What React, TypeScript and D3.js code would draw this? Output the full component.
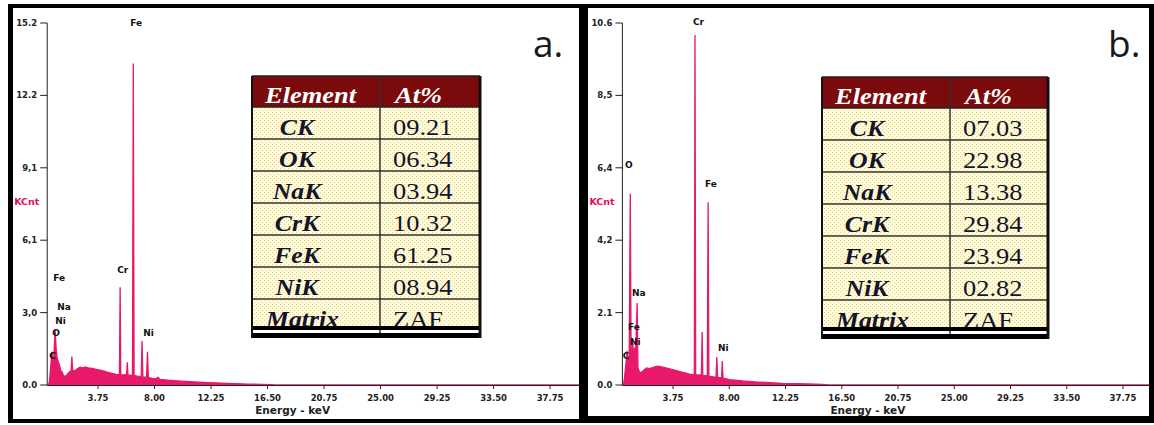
import React from 'react';
import * as d3 from 'd3';

const energyTicks = [3.75, 8.0, 12.25, 16.5, 20.75, 25.0, 29.25, 33.5, 37.75];
const energyMax = 40;
const countMaxA = 15.2;
const countMaxB = 10.6;
const countTickLabelsA = ['0.0', '3,0', '6,1', '9,1', '12.2', '15.2'];
const countTickLabelsB = ['0.0', '2.1', '4,2', '6,4', '8,5', '10.6'];

// [keV, KCnt]
const spectrumA: [number, number][] = [
  [0, 0], [0.08, 0.1], [0.15, 0.5], [0.22, 1.0], [0.28, 1.4], [0.34, 1.0], [0.42, 1.2], [0.52, 2.3],
  [0.6, 1.5], [0.68, 1.1], [0.78, 0.95], [0.86, 0.8], [0.95, 0.6], [1.04, 0.55], [1.15, 0.4], [1.3, 0.35],
  [1.45, 0.45], [1.6, 0.55], [1.72, 0.6], [1.78, 1.2], [1.84, 0.6], [2.0, 0.6], [2.2, 0.68], [2.4, 0.75],
  [2.6, 0.72], [2.8, 0.76], [3.0, 0.72], [3.3, 0.7], [3.6, 0.66], [3.9, 0.62], [4.2, 0.58], [4.5, 0.53],
  [4.8, 0.49], [5.1, 0.45], [5.36, 0.43], [5.41, 4.1], [5.46, 0.42], [5.7, 0.42], [5.9, 0.45], [5.95, 0.95],
  [6.0, 0.42], [6.34, 0.4], [6.4, 13.5], [6.46, 0.4], [6.7, 0.37], [7.0, 0.36], [7.06, 1.85], [7.12, 0.34],
  [7.4, 0.33], [7.47, 1.4], [7.53, 0.32], [7.8, 0.28], [8.1, 0.26], [8.26, 0.32], [8.4, 0.24], [9, 0.2],
  [10, 0.16], [11, 0.13], [12, 0.1], [13, 0.08], [14, 0.06], [15, 0.04], [16, 0.03], [16.8, 0.01], [17, 0], [40, 0],
];

// [keV, KCnt]
const spectrumB: [number, number][] = [
  [0, 0], [0.08, 0.2], [0.16, 0.5], [0.24, 0.8], [0.28, 1.0], [0.34, 0.6], [0.44, 0.9], [0.52, 5.6],
  [0.58, 1.0], [0.66, 0.9], [0.71, 1.3], [0.76, 0.7], [0.85, 1.1], [0.9, 0.6], [1.04, 2.4], [1.1, 0.5],
  [1.25, 0.35], [1.45, 0.4], [1.74, 0.5], [2.0, 0.48], [2.3, 0.52], [2.6, 0.55], [2.9, 0.53], [3.2, 0.5],
  [3.5, 0.47], [3.8, 0.44], [4.1, 0.41], [4.4, 0.38], [4.7, 0.35], [5.0, 0.32], [5.36, 0.3], [5.41, 10.25],
  [5.46, 0.3], [5.7, 0.29], [5.9, 0.3], [5.95, 1.55], [6.0, 0.28], [6.34, 0.27], [6.4, 5.35], [6.46, 0.26],
  [6.8, 0.24], [7.0, 0.23], [7.06, 0.82], [7.12, 0.22], [7.42, 0.21], [7.47, 0.7], [7.53, 0.2], [8.0, 0.16],
  [9, 0.12], [10, 0.09], [11, 0.07], [12, 0.05], [13, 0.04], [14, 0.03], [15, 0.015], [15.5, 0], [40, 0],
];

const peakLabelsA = [
  { t: 'Fe', e: 6.17, c: 15.2 }, { t: 'Cr', e: 5.19, c: 4.82 }, { t: 'Ni', e: 7.15, c: 2.18 },
  { t: 'Fe', e: 0.38, c: 4.52 }, { t: 'Na', e: 0.68, c: 3.27 }, { t: 'Ni', e: 0.53, c: 2.68 },
  { t: 'O', e: 0.3, c: 2.18 }, { t: 'C', e: 0.08, c: 1.21 },
];
const peakLabelsB = [
  { t: 'Cr', e: 5.26, c: 10.63 }, { t: 'Fe', e: 6.17, c: 5.89 }, { t: 'O', e: 0.12, c: 6.44 },
  { t: 'Na', e: 0.65, c: 2.69 }, { t: 'Fe', e: 0.35, c: 1.7 }, { t: 'Ni', e: 0.5, c: 1.26 },
  { t: 'C', e: -0.05, c: 0.85 }, { t: 'Ni', e: 7.14, c: 1.08 },
];

const tableElements = ['CK', 'OK', 'NaK', 'CrK', 'FeK', 'NiK', 'Matrix'];
const atPercentA = ['09.21', '06.34', '03.94', '10.32', '61.25', '08.94', 'ZAF'];
const atPercentB = ['07.03', '22.98', '13.38', '29.84', '23.94', '02.82', 'ZAF'];

const PINK = '#e8186a';
const SERIF = '"Liberation Serif", "Times New Roman", serif';
const AXISF = '"DejaVu Sans", Verdana, sans-serif';

type Cfg = {
  id: string;
  outer: [number, number, number, number];
  inner: [number, number, number, number];
  xRange: [number, number];
  yMax: number;
  yLabels: string[];
  data: [number, number][];
  labels: { t: string; e: number; c: number }[];
  letter: string;
  letterX: number;
  table: { x0: number; x1: number; div: number; top: number };
  values: string[];
};

const panels: Cfg[] = [
  {
    id: 'a', outer: [8, 4, 576, 419], inner: [13, 8, 566, 411], xRange: [48.2, 580], yMax: countMaxA,
    yLabels: countTickLabelsA, data: spectrumA, labels: peakLabelsA, letter: 'a.', letterX: 533,
    table: { x0: 252, x1: 480, div: 380, top: 76 }, values: atPercentA,
  },
  {
    id: 'b', outer: [584, 4, 570, 419], inner: [588, 8, 561, 408], xRange: [623.4, 1152.8], yMax: countMaxB,
    yLabels: countTickLabelsB, data: spectrumB, labels: peakLabelsB, letter: 'b.', letterX: 1108,
    table: { x0: 822, x1: 1048, div: 950, top: 77 }, values: atPercentB,
  },
];

function Table({ cfg }: { cfg: Cfg }) {
  const { x0, x1, div, top } = cfg.table;
  const headH = 31;
  const rowH = 32;
  const bodyTop = top + headH;
  const matrixBottom = bodyTop + rowH * 6 + 27;
  const sx = 'scale(1.12,1)';
  return (
    <g>
      <defs>
        <clipPath id={`tclip-${cfg.id}`}>
          <rect x={x0} y={top} width={x1 - x0} height={matrixBottom - top} />
        </clipPath>
      </defs>
      <rect x={x0} y={bodyTop} width={x1 - x0} height={matrixBottom + 12 - bodyTop} fill="url(#dots)" />
      <rect x={x0} y={top} width={x1 - x0} height={headH} fill="#7a0a0c" />
      <g fontFamily={SERIF} fontWeight="bold" fontStyle="italic" fontSize={23} fill="#fff">
        <text transform={`translate(${x0 + 13},${top + 27}) scale(1.15,1)`}>Element</text>
        <text transform={`translate(${div + 15},${top + 27}) scale(1.15,1)`}>At%</text>
      </g>
      <g clipPath={`url(#tclip-${cfg.id})`}>
        {tableElements.map((el, i) => {
          const ry = bodyTop + i * rowH + 28;
          const last = i === tableElements.length - 1;
          return (
            <g key={el}>
              <text
                transform={`translate(${last ? x0 + 14 : x0 + 45},${ry}) ${sx}`}
                textAnchor={last ? 'start' : 'middle'}
                fontFamily={SERIF} fontWeight="bold" fontStyle="italic" fontSize={23} fill="#14142a"
              >{el}</text>
              <text
                transform={`translate(${div + 13},${ry}) scale(1.15,1)`}
                fontFamily={SERIF} fontSize={23} fill="#14142a"
              >{cfg.values[i]}</text>
            </g>
          );
        })}
      </g>
      {d3.range(1, 7).map((i) => (
        <line key={i} x1={x0} x2={x1} y1={bodyTop + i * rowH} y2={bodyTop + i * rowH} stroke="#333" strokeWidth={1.5} />
      ))}
      <line x1={x0} x2={x1} y1={bodyTop} y2={bodyTop} stroke="#222" strokeWidth={1.5} />
      <line x1={div} x2={div} y1={top} y2={matrixBottom + 12} stroke="#333" strokeWidth={1.5} />
      <rect x={x0} y={matrixBottom + 4} width={x1 - x0} height={3} fill="#fff" />
      <rect x={x0 - 1} y={matrixBottom} width={x1 - x0 + 2} height={4} fill="#000" />
      <rect x={x0 - 1} y={matrixBottom + 7} width={x1 - x0 + 2} height={5} fill="#000" />
      <line x1={div} x2={div} y1={matrixBottom + 4} y2={matrixBottom + 7} stroke="#333" strokeWidth={1.5} />
      <line x1={x0} x2={x0} y1={top} y2={matrixBottom + 12} stroke="#111" strokeWidth={2} />
      <line x1={x1} x2={x1} y1={top} y2={matrixBottom + 12} stroke="#111" strokeWidth={3} />
      <line x1={x0} x2={x1} y1={top} y2={top} stroke="#222" strokeWidth={1.5} />
    </g>
  );
}

function Panel({ cfg }: { cfg: Cfg }) {
  const x = d3.scaleLinear().domain([0, energyMax]).range(cfg.xRange);
  const y = d3.scaleLinear().domain([0, cfg.yMax]).range([385, 23]);
  const area = d3.area<[number, number]>().x((d) => x(d[0])).y0(y(0)).y1((d) => y(d[1]));
  const line = d3.line<[number, number]>().x((d) => x(d[0])).y((d) => y(d[1]));
  const [ix, iy, iw, ih] = cfg.inner;
  const [ox, oy, ow, oh] = cfg.outer;
  const axisX = cfg.xRange[0] - 1;
  const yTicks = cfg.yLabels.map((_, i) => (cfg.yMax * i) / (cfg.yLabels.length - 1));
  return (
    <g>
      <defs>
        <clipPath id={`pclip-${cfg.id}`}>
          <rect x={ix} y={iy} width={iw} height={ih} />
        </clipPath>
      </defs>
      <rect x={ox} y={oy} width={ow} height={oh} fill="#000" />
      <rect x={ix} y={iy} width={iw} height={ih} fill="#fff" />
      <g clipPath={`url(#pclip-${cfg.id})`}>
        <path d={area(cfg.data) || ''} fill={PINK} />
        <path d={line(cfg.data) || ''} fill="none" stroke={PINK} strokeWidth={1.3} />
        <line x1={axisX} x2={ix + iw} y1={385.5} y2={385.5} stroke="#222" strokeWidth={1} />
        <line x1={axisX} x2={axisX} y1={y(cfg.yMax)} y2={385.5} stroke="#222" strokeWidth={1} />
        {yTicks.map((v, i) => (
          <g key={i}>
            <line x1={axisX - 7} x2={axisX} y1={y(v)} y2={y(v)} stroke="#222" strokeWidth={1} />
            <text x={axisX - 10} y={y(v)} dy="0.35em" textAnchor="end" fontFamily={AXISF} fontWeight="bold" fontSize={8.5} fill="#222">{cfg.yLabels[i]}</text>
          </g>
        ))}
        <text x={axisX - 33} y={202} dy="0.35em" fontFamily={AXISF} fontWeight="bold" fontSize={9.5} fill="#e0105a">KCnt</text>
        {energyTicks.map((t) => (
          <g key={t}>
            <line x1={x(t)} x2={x(t)} y1={385.5} y2={389} stroke="#222" strokeWidth={1} />
            <text x={x(t)} y={398} dy="0.35em" textAnchor="middle" fontFamily={AXISF} fontWeight="bold" fontSize={8.5} fill="#222">{t.toFixed(2)}</text>
          </g>
        ))}
        <text x={axisX + 208} y={410} dy="0.35em" fontFamily={AXISF} fontWeight="bold" fontSize={10.5} fill="#222">Energy - keV</text>
        {cfg.labels.map((l, i) => (
          <text key={i} x={x(l.e)} y={y(l.c)} dy="0.35em" fontFamily={AXISF} fontWeight="bold" fontSize={9} fill="#111">{l.t}</text>
        ))}
        <text x={cfg.letterX} y={57} fontFamily='"Open Sans", sans-serif' fontSize={37} fill="#1a1a1a">{cfg.letter}</text>
      </g>
      <Table cfg={cfg} />
    </g>
  );
}

export default function App() {
  return (
    <svg width={1154} height={425} style={{ position: 'absolute', left: 0, top: 0 }}>
      <defs>
        <pattern id="dots" width="4" height="4" patternUnits="userSpaceOnUse">
          <rect width="4" height="4" fill="#fffbe0" />
          <rect x="0" y="0" width="1" height="1" fill="#eed85a" />
          <rect x="2" y="2" width="1" height="1" fill="#eed85a" />
        </pattern>
      </defs>
      <rect width={1154} height={425} fill="#fff" />
      {panels.map((p) => (
        <Panel key={p.id} cfg={p} />
      ))}
    </svg>
  );
}
